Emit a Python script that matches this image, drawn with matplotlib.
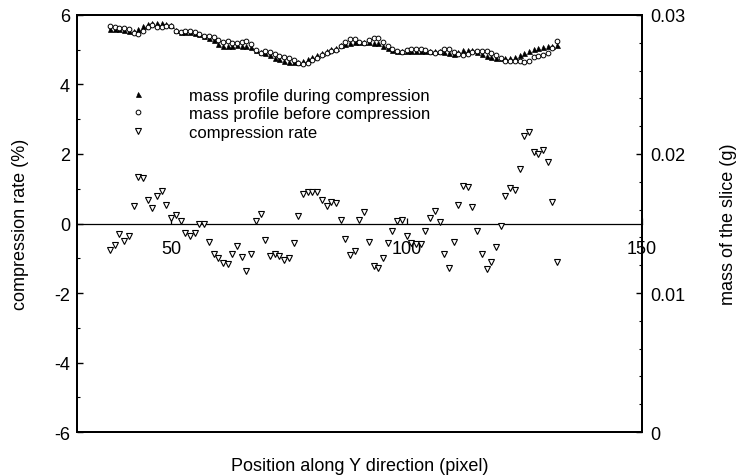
import matplotlib
matplotlib.use("Agg")
import matplotlib.pyplot as plt
from matplotlib.ticker import MultipleLocator
from matplotlib.lines import Line2D

plt.rcParams['font.family'] = ['Liberation Sans', 'DejaVu Sans']
plt.rcParams['axes.unicode_minus'] = False

# ---- data ----
position = list(range(37, 133))

compression_rate = [
    -0.76, -0.62, -0.31, -0.49, -0.37, 0.49, 1.33, 1.30, 0.67, 0.44,
    0.78, 0.94, 0.53, 0.15, 0.25, 0.08, -0.28, -0.37, -0.28, -0.01,
    -0.01, -0.52, -0.88, -0.98, -1.14, -1.17, -0.88, -0.66, -0.97, -1.36,
    -0.88, 0.08, 0.27, -0.47, -0.93, -0.88, -0.93, -1.06, -1.00, -0.57,
    0.22, 0.85, 0.92, 0.90, 0.90, 0.67, 0.49, 0.62, 0.58, 0.11,
    -0.44, -0.92, -0.78, 0.09, 0.34, -0.52, -1.22, -1.27, -1.00, -0.56,
    -0.23, 0.06, 0.09, -0.35, -0.56, -0.60, -0.60, -0.21, 0.15, 0.37,
    0.04, -0.88, -1.29, -0.54, 0.52, 1.08, 1.06, 0.47, -0.21, -0.88,
    -1.30, -1.11, -0.68, -0.07, 0.80, 1.03, 0.96, 1.56, 2.51, 2.63,
    2.07, 2.01, 2.12, 1.76, 0.63, -1.11]

mass_during = [
    0.02899, 0.02899, 0.02896, 0.02892, 0.02885, 0.02885, 0.02899, 0.02921, 0.02935, 0.02939,
    0.02939, 0.02939, 0.02935, 0.02928, 0.02892, 0.02881, 0.02878, 0.02874, 0.02870, 0.02863,
    0.02849, 0.02831, 0.02817, 0.02791, 0.02777, 0.02777, 0.02777, 0.02781, 0.02777, 0.02777,
    0.02770, 0.02748, 0.02734, 0.02727, 0.02712, 0.02694, 0.02683, 0.02669, 0.02665, 0.02662,
    0.02662, 0.02669, 0.02683, 0.02698, 0.02712, 0.02727, 0.02741, 0.02755, 0.02766, 0.02781,
    0.02791, 0.02798, 0.02806, 0.02806, 0.02809, 0.02806, 0.02802, 0.02795, 0.02777, 0.02759,
    0.02748, 0.02741, 0.02738, 0.02738, 0.02738, 0.02738, 0.02738, 0.02741, 0.02738, 0.02738,
    0.02738, 0.02734, 0.02723, 0.02720, 0.02734, 0.02745, 0.02748, 0.02745, 0.02734, 0.02720,
    0.02705, 0.02698, 0.02691, 0.02691, 0.02691, 0.02694, 0.02698, 0.02712, 0.02727, 0.02741,
    0.02752, 0.02760, 0.02768, 0.02775, 0.02777, 0.02784]

mass_before = [
    0.02920, 0.02916, 0.02905, 0.02906, 0.02896, 0.02871, 0.02860, 0.02883, 0.02915, 0.02926,
    0.02916, 0.02912, 0.02919, 0.02924, 0.02885, 0.02879, 0.02886, 0.02885, 0.02878, 0.02863,
    0.02849, 0.02846, 0.02842, 0.02818, 0.02809, 0.02810, 0.02801, 0.02799, 0.02804, 0.02815,
    0.02794, 0.02746, 0.02727, 0.02740, 0.02737, 0.02718, 0.02708, 0.02697, 0.02692, 0.02677,
    0.02656, 0.02646, 0.02658, 0.02674, 0.02688, 0.02709, 0.02728, 0.02738, 0.02750, 0.02778,
    0.02803, 0.02824, 0.02828, 0.02803, 0.02799, 0.02821, 0.02836, 0.02831, 0.02805, 0.02774,
    0.02754, 0.02739, 0.02736, 0.02748, 0.02753, 0.02754, 0.02754, 0.02747, 0.02734, 0.02728,
    0.02737, 0.02758, 0.02758, 0.02735, 0.02720, 0.02715, 0.02719, 0.02732, 0.02740, 0.02744,
    0.02740, 0.02728, 0.02709, 0.02693, 0.02669, 0.02666, 0.02672, 0.02670, 0.02660, 0.02670,
    0.02697, 0.02706, 0.02711, 0.02727, 0.02760, 0.02815]

x_ticks = [50, 100, 150]
left_ticks = [-6, -4, -2, 0, 2, 4, 6]
right_ticks = [0, 0.01, 0.02, 0.03]
right_tick_labels = ['0', '0.01', '0.02', '0.03']

labels = ['mass profile during compression',
          'mass profile before compression',
          'compression rate']

# ---- figure ----
fig = plt.figure(figsize=(7.37, 4.77), dpi=100)
ax = fig.add_axes([0.1045, 0.0922, 0.7665, 0.8743])

FS = 13

ax.plot(position, compression_rate, linestyle='none', marker='v', ms=4.0,
        mfc='white', mec='black', mew=0.8, zorder=3)
ax.set_xlim(30, 150)
ax.set_ylim(-6, 6)
ax.set_yticks(left_ticks)
ax.yaxis.set_minor_locator(MultipleLocator(1))
ax.tick_params(axis='y', which='both', direction='in', labelsize=FS, pad=5)
ax.tick_params(axis='y', which='major', length=4, width=1)
ax.tick_params(axis='y', which='minor', length=2.5, width=0.8)
ax.tick_params(axis='x', which='both', length=0, labelbottom=False)
ax.set_ylabel('compression rate (%)', fontsize=FS, labelpad=18)
ax.set_xlabel('Position along Y direction (pixel)', fontsize=FS, labelpad=18)
for sp in ax.spines.values():
    sp.set_linewidth(1.4)

# x axis drawn through zero
sec = ax.secondary_xaxis(0.5)
sec.set_alignment('bottom')
sec.spines['bottom'].set_linewidth(0.9)
sec.set_xticks(x_ticks)
sec.tick_params(axis='x', direction='in', length=4, width=0.9, labelsize=FS, pad=12)

ax2 = ax.twinx()
ax2.plot(position, mass_during, linestyle='none', marker='^', ms=3.6,
         mfc='black', mec='black', mew=0.5)
ax2.plot(position, mass_before, linestyle='none', marker='o', ms=3.4,
         mfc='white', mec='black', mew=0.7)
ax2.set_ylim(0, 0.03)
ax2.set_yticks(right_ticks, labels=right_tick_labels)
ax2.yaxis.set_minor_locator(MultipleLocator(0.002))
ax2.tick_params(axis='y', which='both', direction='in', labelsize=FS, pad=6)
ax2.tick_params(axis='y', which='major', length=4, width=1)
ax2.tick_params(axis='y', which='minor', length=2.5, width=0.8)
ax2.set_ylabel('mass of the slice (g)', fontsize=FS, labelpad=25)
for sp in ax2.spines.values():
    sp.set_linewidth(1.4)

handles = [
    Line2D([], [], linestyle='none', marker='^', ms=3.6, mfc='black', mec='black', mew=0.5),
    Line2D([], [], linestyle='none', marker='o', ms=3.4, mfc='white', mec='black', mew=0.7),
    Line2D([], [], linestyle='none', marker='v', ms=4.0, mfc='white', mec='black', mew=0.8),
]
ax2.legend(handles, labels, loc='upper left', bbox_to_anchor=(0.094, 0.826),
           frameon=False, fontsize=12, handlelength=1.0, handletextpad=2.55,
           borderpad=0, borderaxespad=0, labelspacing=0.22)

fig.savefig('out.png', dpi=100)
